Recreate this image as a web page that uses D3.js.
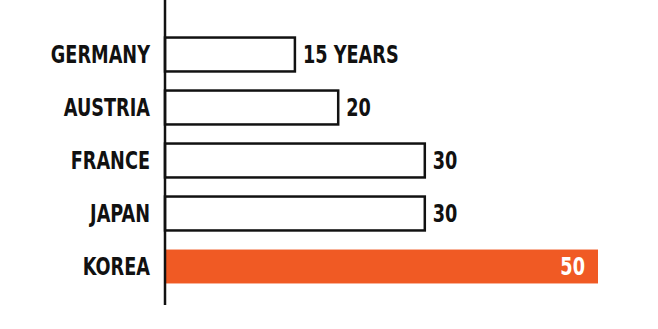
<!DOCTYPE html>
<html>
<head>
<meta charset="utf-8">
<script src="https://cdn.jsdelivr.net/npm/d3@7"></script>
<style>
  body { margin: 0; background: #fff; }
  svg { display: block; }
  text { font-family: "DejaVu Sans Condensed", "DejaVu Sans", sans-serif; font-stretch: condensed; font-weight: bold; }
</style>
</head>
<body>
<svg id="chart"></svg>
<script>
const countries = ["GERMANY", "AUSTRIA", "FRANCE", "JAPAN", "KOREA"];
const years = [15, 20, 30, 30, 50];
const valueLabels = ["15 YEARS", "20", "30", "30", "50"];
const highlight = "KOREA";

const width = 658, height = 329;
const margin = {top: 28, right: 60, bottom: 36, left: 165};

const svg = d3.select("#chart")
    .attr("width", width)
    .attr("height", height);

const x = d3.scaleLinear()
    .domain([0, 50])
    .range([margin.left, 598]);

const y = d3.scaleBand()
    .domain(countries)
    .range([margin.top, height - margin.bottom])
    .paddingInner(0.36)
    .paddingOuter(0.18);

const data = countries.map((c, i) => ({name: c, value: years[i], label: valueLabels[i]}));

// bars
svg.append("g")
    .selectAll("rect")
    .data(data)
    .join("rect")
    .attr("x", x(0))
    .attr("y", d => y(d.name))
    .attr("width", d => x(d.value) - x(0))
    .attr("height", y.bandwidth())
    .attr("fill", d => d.name === highlight ? "#f05a24" : "#fff")
    .attr("stroke", d => d.name === highlight ? "none" : "#111")
    .attr("stroke-width", 2.5);

// axis line
svg.append("line")
    .attr("x1", x(0)).attr("x2", x(0))
    .attr("y1", 0).attr("y2", 305)
    .attr("stroke", "#111")
    .attr("stroke-width", 2.5);

// horizontal squeeze to imitate the narrow hand lettering
const sq = 0.82;

// country labels
svg.append("g")
    .selectAll("text")
    .data(data)
    .join("text")
    .attr("transform", d => `translate(150,${y(d.name) + y.bandwidth() / 2}) scale(${sq},1)`)
    .attr("dy", "0.36em")
    .attr("text-anchor", "end")
    .attr("font-size", 24)
    .attr("fill", "#111")
    .text(d => d.name);

// value labels
svg.append("g")
    .selectAll("text")
    .data(data)
    .join("text")
    .attr("transform", d => {
        const tx = d.name === highlight ? x(d.value) - 13 : x(d.value) + 8;
        return `translate(${tx},${y(d.name) + y.bandwidth() / 2}) scale(${sq},1)`;
    })
    .attr("dy", "0.36em")
    .attr("text-anchor", d => d.name === highlight ? "end" : "start")
    .attr("font-size", 24)
    .attr("fill", d => d.name === highlight ? "#fff" : "#111")
    .text(d => d.label);
</script>
</body>
</html>
